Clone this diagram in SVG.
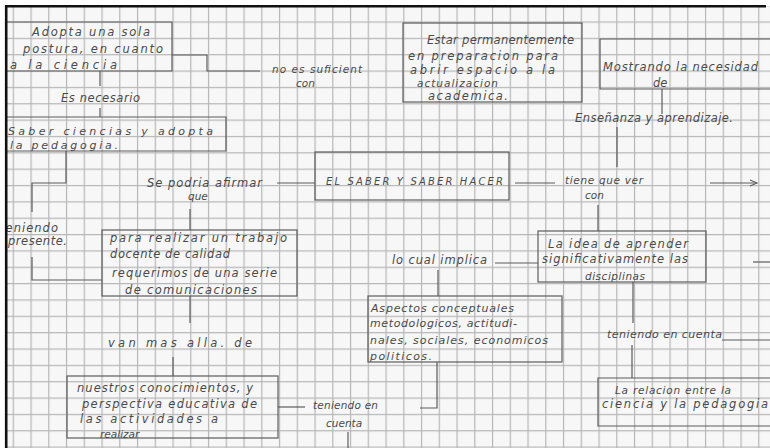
<svg xmlns="http://www.w3.org/2000/svg" width="770" height="448" viewBox="0 0 770 448">
<defs>
<pattern id="grid" x="12.7" y="5.1" width="17.75" height="16.35" patternUnits="userSpaceOnUse">
<path d="M0.6 0 V16.35 M0 0.6 H17.75" stroke="#b6b6b6" stroke-width="1.2" fill="none"/>
</pattern>
<marker id="arr" markerWidth="10" markerHeight="10" refX="8" refY="4" orient="auto" markerUnits="userSpaceOnUse">
<path d="M1 1 L8 4 L1 7" fill="none" stroke="#5e5e5e" stroke-width="1.1"/>
</marker>
</defs>
<style>
.box{fill:none;stroke:#5c5c5c;stroke-width:1.2}
.ln{fill:none;stroke:#5c5c5c;stroke-width:1.2}
text{font-family:"DejaVu Sans",sans-serif;font-style:italic;font-size:11.5px;fill:#4a4a4a}
.caps{font-size:10px;font-style:italic}
.md{font-size:11px}
.sm{font-size:10.5px}
</style>
<rect width="770" height="448" fill="#ffffff"/>
<rect x="6" y="6" width="764" height="442" fill="#f7f7f7"/>
<rect x="6" y="6" width="764" height="442" fill="url(#grid)"/>

<g id="connectors">
<path class="ln" d="M172 55 H207 V71 H260"/>
<path class="ln" d="M100 71 V86 M100 108 V117"/>
<path class="ln" d="M66 151 V183 H32 V212 M32 257 V280 H102"/>
<path class="ln" d="M277 183 H315"/>
<path class="ln" d="M190 209 V230"/>
<path class="ln" d="M190 296 V323"/>
<path class="ln" d="M173 357 V376"/>
<path class="ln" d="M278 407 H305"/>
<path class="ln" d="M348 432 V448"/>
<path class="ln" d="M420 408 H437 V362"/>
<path class="ln" d="M438 270 V296"/>
<path class="ln" d="M495 263 H538"/>
<path class="ln" d="M515 183 H555"/>
<path class="ln" d="M598 205 V231"/>
<path class="ln" d="M617 127 V167"/>
<path class="ln" d="M662 89 V114"/>
<path class="ln" d="M710 183 H757" marker-end="url(#arr)"/>
<path class="ln" d="M753 262 H770"/>
<path class="ln" d="M633 282 V323 M632 345 V378"/>
<path class="ln" d="M722 340 H770"/>
</g>

<g id="n1">
<path class="box" d="M0 22 H172 V71 H0"/>
<text x="32" y="36" textLength="118">Adopta una sola</text>
<text x="23" y="53" textLength="140">postura, en cuanto</text>
<text x="10" y="69" textLength="107">a la ciencia</text>
</g>
<g id="l-suficient">
<text class="sm" x="272" y="73" textLength="90">no es suficient</text>
<text class="sm" x="296" y="87">con</text>
</g>
<g id="l-necesario">
<text x="61" y="102" textLength="79">Es necesario</text>
</g>
<g id="n2">
<path class="box" d="M0 117 H226 V151 H0"/>
<text class="md" x="8" y="135" textLength="205">Saber ciencias y adopta</text>
<text class="md" x="10" y="149" textLength="108">la pedagogia.</text>
</g>
<g id="l-teniendo-presente">
<text x="0" y="232" textLength="58">teniendo</text>
<text x="8" y="245" textLength="59">presente.</text>
</g>
<g id="l-afirmar">
<text x="147" y="187" textLength="115">Se podria afirmar</text>
<text class="sm" x="188" y="200">que</text>
</g>
<g id="center">
<rect class="box" x="315" y="152" width="194" height="48"/>
<text class="caps" x="326" y="185" textLength="177">EL SABER Y SABER HACER</text>
</g>
<g id="n3">
<rect class="box" x="102" y="230" width="195" height="66"/>
<text x="110" y="242" textLength="177">para realizar un trabajo</text>
<text x="110" y="258" textLength="120">docente de calidad</text>
<text x="112" y="277" textLength="165">requerimos de una serie</text>
<text x="125" y="294" textLength="132">de comunicaciones</text>
</g>
<g id="l-alla">
<text x="108" y="347" textLength="144">van mas alla. de</text>
</g>
<g id="n4">
<rect class="box" x="67" y="376" width="211" height="62"/>
<text x="77" y="392" textLength="176">nuestros conocimientos, y</text>
<text x="82" y="408" textLength="175">perspectiva educativa de</text>
<text x="80" y="423" textLength="138">las actividades a</text>
<text class="sm" x="100" y="438">realizar</text>
</g>
<g id="l-cuenta1">
<text class="sm" x="313" y="409" textLength="65">teniendo en</text>
<text class="sm" x="326" y="427">cuenta</text>
</g>
<g id="n5">
<rect class="box" x="368" y="296" width="194" height="66"/>
<text class="md" x="371" y="312" textLength="143">Aspectos conceptuales</text>
<text class="md" x="370" y="327" textLength="147">metodologicos, actitudi-</text>
<text class="md" x="370" y="344" textLength="178">nales, sociales, economicos</text>
<text class="md" x="370" y="360" textLength="62">politicos.</text>
</g>
<g id="l-implica">
<text x="392" y="264" textLength="95">lo cual implica</text>
</g>
<g id="n6">
<rect class="box" x="538" y="231" width="168" height="51"/>
<text x="548" y="248" textLength="140">La idea de aprender</text>
<text x="542" y="263" textLength="146">significativamente las</text>
<text class="sm" x="585" y="280" textLength="60">disciplinas</text>
</g>
<g id="l-tiene">
<text class="sm" x="565" y="184" textLength="78">tiene que ver</text>
<text class="sm" x="585" y="199">con</text>
</g>
<g id="l-cuenta2">
<text class="md" x="607" y="338" textLength="115">teniendo en cuenta</text>
</g>
<g id="n9">
<path class="box" d="M775 378 H598 V426 H775"/>
<text class="sm" x="615" y="394" textLength="116">La relacion entre la</text>
<text x="602" y="408" textLength="166">ciencia y la pedagogia</text>
</g>
<g id="n7">
<rect class="box" x="403" y="23" width="179" height="79"/>
<text x="427" y="44" textLength="147">Estar permanentemente</text>
<text x="408" y="60" textLength="150">en preparacion para</text>
<text x="410" y="74" textLength="145">abrir espacio a la</text>
<text class="sm" x="417" y="87" textLength="81">actualizacion</text>
<text x="428" y="100" textLength="80">academica.</text>
</g>
<g id="n8">
<path class="box" d="M775 39 H600 V89 H775"/>
<text x="603" y="71" textLength="155">Mostrando la necesidad</text>
<text x="653" y="87">de</text>
</g>
<g id="l-ensenanza">
<text x="575" y="122" textLength="158">Enseñanza y aprendizaje.</text>
</g>

<g id="frame">
<rect x="0" y="0" width="5" height="448" fill="#ffffff"/>
<rect x="0" y="0" width="770" height="5" fill="#ffffff"/>
<path d="M6.2 448 V6.2 H766" fill="none" stroke="#111" stroke-width="2.6"/>
</g>
</svg>
